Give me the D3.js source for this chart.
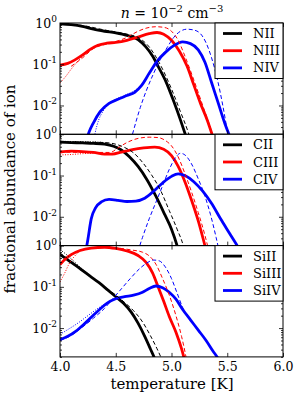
<!DOCTYPE html>
<html lang="en">
<head>
<meta charset="UTF-8">
<title>Ion fractions</title>
<style>
body { margin: 0; background: #fff; }
svg text { font-family: "DejaVu Serif", serif; fill: #000; }
</style>
</head>
<body>
<svg id="chart" width="300" height="420"></svg>
<script src="https://d3js.org/d3.v7.min.js"></script>
<script>
// x = log10 temperature, y = log10 fractional abundance
const xTicks = [4.0, 4.5, 5.0, 5.5, 6.0];
const yLabelExps = [0, -1, -2];

// nitrogen
const NII_solid = [[4.0,-0.02],[4.1,-0.04],[4.2,-0.08],[4.3,-0.15],[4.4,-0.2],[4.5,-0.24],[4.6,-0.3],[4.7,-0.4],[4.77,-0.58],[4.83,-0.8],[4.88,-1.05],[4.95,-1.42],[5.02,-1.9],[5.08,-2.35],[5.13,-2.75],[5.16,-3]];
const NII_dashed = [[4.0,-0.02],[4.2,-0.06],[4.4,-0.17],[4.6,-0.27],[4.7,-0.35],[4.8,-0.58],[4.86,-0.82],[4.92,-1.12],[5.0,-1.6],[5.08,-2.15],[5.15,-2.65],[5.19,-3]];
const NIII_solid = [[4.0,-1.02],[4.07,-0.98],[4.13,-0.9],[4.2,-0.78],[4.27,-0.64],[4.34,-0.54],[4.42,-0.49],[4.5,-0.47],[4.6,-0.42],[4.7,-0.34],[4.8,-0.26],[4.87,-0.23],[4.93,-0.27],[5.0,-0.42],[5.07,-0.68],[5.14,-1.05],[5.2,-1.5],[5.26,-1.95],[5.32,-2.35],[5.37,-2.75],[5.4,-3]];
const NIII_dashed = [[4.1,-1.05],[4.2,-0.85],[4.3,-0.62],[4.4,-0.52],[4.5,-0.45],[4.6,-0.35],[4.7,-0.2],[4.78,-0.12],[4.86,-0.09],[4.94,-0.11],[5.0,-0.2],[5.06,-0.42],[5.12,-0.8],[5.2,-1.38],[5.28,-2.0],[5.35,-2.55],[5.4,-3]];
const NIII_dotted = [[4.0,-1.45],[4.05,-1.3],[4.1,-1.12],[4.17,-0.9],[4.25,-0.7],[4.34,-0.54]];
const NIV_solid = [[4.22,-3],[4.26,-2.65],[4.3,-2.42],[4.36,-2.15],[4.44,-1.95],[4.52,-1.85],[4.6,-1.76],[4.67,-1.68],[4.73,-1.52],[4.8,-1.22],[4.87,-0.93],[4.95,-0.7],[5.02,-0.55],[5.1,-0.46],[5.17,-0.5],[5.24,-0.65],[5.3,-0.95],[5.36,-1.45],[5.42,-1.95],[5.48,-2.45],[5.53,-2.8],[5.56,-3]];
const NIV_dashed = [[4.62,-3],[4.66,-2.6],[4.72,-2.05],[4.78,-1.6],[4.84,-1.22],[4.9,-0.88],[4.96,-0.6],[5.02,-0.35],[5.08,-0.2],[5.14,-0.15],[5.2,-0.17],[5.26,-0.26],[5.31,-0.48],[5.36,-0.85],[5.41,-1.35],[5.46,-2.0],[5.5,-2.6],[5.53,-3]];
const NIV_dotted = [[4.29,-3],[4.33,-2.5],[4.4,-2.08],[4.48,-1.88],[4.56,-1.78],[4.64,-1.68],[4.7,-1.58],[4.75,-1.45]];

// carbon
const CII_solid = [[4.0,-0.19],[4.1,-0.2],[4.2,-0.21],[4.3,-0.22],[4.4,-0.24],[4.48,-0.29],[4.55,-0.38],[4.62,-0.54],[4.7,-0.78],[4.78,-1.1],[4.86,-1.5],[4.94,-1.95],[5.0,-2.3],[5.05,-2.7],[5.08,-3]];
const CII_dashed = [[4.0,-0.19],[4.2,-0.19],[4.4,-0.2],[4.5,-0.24],[4.58,-0.32],[4.66,-0.45],[4.74,-0.68],[4.82,-0.98],[4.9,-1.35],[4.98,-1.85],[5.05,-2.3],[5.11,-2.75],[5.13,-3]];
const CII_dotted = [[4.0,-0.17],[4.2,-0.18],[4.35,-0.19],[4.45,-0.24],[4.52,-0.32]];
const CIII_solid = [[4.0,-0.43],[4.1,-0.41],[4.2,-0.42],[4.3,-0.44],[4.4,-0.48],[4.47,-0.48],[4.55,-0.43],[4.65,-0.37],[4.75,-0.33],[4.85,-0.31],[4.93,-0.36],[5.0,-0.52],[5.06,-0.78],[5.12,-1.15],[5.18,-1.6],[5.24,-2.1],[5.3,-2.7],[5.33,-3]];
const CIII_dashed = [[4.0,-0.43],[4.3,-0.44],[4.45,-0.44],[4.52,-0.33],[4.6,-0.2],[4.7,-0.1],[4.8,-0.07],[4.88,-0.08],[4.95,-0.16],[5.0,-0.28],[5.06,-0.55],[5.12,-0.95],[5.18,-1.4],[5.24,-1.9],[5.3,-2.45],[5.35,-3]];
const CIII_dotted = [[4.0,-0.5],[4.1,-0.49],[4.2,-0.47],[4.3,-0.46],[4.4,-0.48]];
const CIV_solid = [[4.22,-3],[4.25,-2.55],[4.28,-2.05],[4.32,-1.78],[4.37,-1.64],[4.44,-1.58],[4.52,-1.6],[4.6,-1.63],[4.68,-1.62],[4.76,-1.55],[4.84,-1.38],[4.92,-1.18],[5.0,-1.02],[5.06,-0.96],[5.12,-1.0],[5.2,-1.15],[5.28,-1.38],[5.36,-1.68],[5.44,-2.05],[5.52,-2.4],[5.6,-2.75],[5.65,-3]];
const CIV_dashed = [[4.68,-3],[4.74,-2.5],[4.8,-2.05],[4.86,-1.65],[4.92,-1.25],[4.98,-0.85],[5.04,-0.55],[5.08,-0.46],[5.12,-0.5],[5.18,-0.72],[5.24,-1.08],[5.3,-1.5],[5.35,-1.95],[5.4,-2.5],[5.44,-3]];

// silicon
const SiII_solid = [[4.0,-0.22],[4.06,-0.33],[4.13,-0.46],[4.2,-0.6],[4.27,-0.74],[4.35,-0.9],[4.43,-1.08],[4.5,-1.24],[4.57,-1.4],[4.64,-1.62],[4.7,-1.88],[4.76,-2.2],[4.81,-2.5],[4.85,-2.75],[4.88,-3]];
const SiII_dashed = [[4.0,-0.18],[4.1,-0.38],[4.2,-0.58],[4.3,-0.8],[4.4,-1.0],[4.5,-1.2],[4.58,-1.38],[4.66,-1.58],[4.74,-1.85],[4.81,-2.18],[4.87,-2.5],[4.92,-2.8],[4.95,-3]];
const SiII_dotted = [[4.0,-0.1],[4.05,-0.2],[4.1,-0.32],[4.18,-0.52],[4.25,-0.68]];
const SiIII_solid = [[4.0,-0.46],[4.05,-0.32],[4.1,-0.22],[4.18,-0.12],[4.28,-0.06],[4.4,-0.04],[4.5,-0.07],[4.6,-0.13],[4.7,-0.24],[4.77,-0.4],[4.83,-0.66],[4.88,-1.0],[4.93,-1.35],[4.98,-1.72],[5.04,-2.1],[5.09,-2.5],[5.12,-2.8],[5.14,-3]];
const SiIII_dashed = [[4.0,-0.46],[4.2,-0.1],[4.4,-0.04],[4.55,-0.07],[4.65,-0.11],[4.74,-0.16],[4.8,-0.25],[4.86,-0.45],[4.92,-0.8],[4.98,-1.2],[5.04,-1.7],[5.09,-2.2],[5.13,-2.7],[5.15,-3]];
const SiIII_dotted = [[4.0,-0.88],[4.04,-0.68],[4.08,-0.45],[4.13,-0.26],[4.18,-0.13]];
const SiIV_solid = [[4.0,-2.28],[4.07,-2.2],[4.14,-2.08],[4.21,-1.92],[4.28,-1.74],[4.35,-1.56],[4.42,-1.4],[4.5,-1.29],[4.58,-1.24],[4.66,-1.2],[4.74,-1.13],[4.8,-1.04],[4.86,-0.98],[4.92,-1.02],[4.98,-1.13],[5.04,-1.3],[5.1,-1.55],[5.17,-1.8],[5.24,-2.05],[5.31,-2.3],[5.37,-2.55],[5.42,-2.75],[5.46,-3]];
const SiIV_dashed = [[4.0,-2.3],[4.1,-2.18],[4.2,-1.98],[4.3,-1.76],[4.4,-1.52],[4.47,-1.3],[4.55,-1.05],[4.63,-0.8],[4.71,-0.57],[4.78,-0.42],[4.84,-0.35],[4.89,-0.37],[4.94,-0.5],[5.0,-0.8],[5.05,-1.15],[5.1,-1.5],[5.17,-1.8]];
const SiIV_dotted = [[4.0,-2.15],[4.08,-2.02],[4.16,-1.88],[4.24,-1.72],[4.32,-1.56],[4.4,-1.42],[4.47,-1.32]];

const colors = ["#000000", "#ff0000", "#0000ff"];

const panels = [
    { names: ["NII", "NIII", "NIV"],
      solid: [NII_solid, NIII_solid, NIV_solid],
      dashed: [NII_dashed, NIII_dashed, NIV_dashed],
      dotted: [[], NIII_dotted, NIV_dotted] },
    { names: ["CII", "CIII", "CIV"],
      solid: [CII_solid, CIII_solid, CIV_solid],
      dashed: [CII_dashed, CIII_dashed, CIV_dashed],
      dotted: [CII_dotted, CIII_dotted, []] },
    { names: ["SiII", "SiIII", "SiIV"],
      solid: [SiII_solid, SiIII_solid, SiIV_solid],
      dashed: [SiII_dashed, SiIII_dashed, SiIV_dashed],
      dotted: [SiII_dotted, SiIII_dotted, SiIV_dotted] }
];

const svg = d3.select("#chart");
const left = 60, right = 283, top0 = 23, ph = 111.3;

const x = d3.scaleLinear().domain([4.0, 6.0]).range([left, right]);

// log minor ticks inside the y domain
const yMin = 2e-3;
const minor = [];
[1e-3, 1e-2, 1e-1].forEach(d => {
    for (let k = 2; k <= 9; k++) if (d * k >= yMin) minor.push(d * k);
});

panels.forEach((p, i) => {
    const top = top0 + i * ph, bottom = top + ph;
    const y = d3.scaleLog().domain([yMin, 1]).range([bottom, top]);
    const g = svg.append("g");

    g.append("clipPath").attr("id", "clip" + i)
        .append("rect").attr("x", left).attr("y", top)
        .attr("width", right - left).attr("height", ph);

    const line = d3.line()
        .x(d => x(d[0]))
        .y(d => y(Math.pow(10, d[1])))
        .curve(d3.curveMonotoneX);

    const plot = g.append("g").attr("clip-path", `url(#clip${i})`);

    p.solid.forEach((s, j) => {
        plot.append("path").attr("d", line(s)).attr("fill", "none")
            .attr("stroke", colors[j]).attr("stroke-width", 2.8)
            .attr("stroke-linejoin", "round");
    });
    p.dashed.forEach((s, j) => {
        plot.append("path").attr("d", line(s)).attr("fill", "none")
            .attr("stroke", colors[j]).attr("stroke-width", 1)
            .attr("stroke-dasharray", "4,2.5");
    });
    p.dotted.forEach((s, j) => {
        if (!s.length) return;
        plot.append("path").attr("d", line(s)).attr("fill", "none")
            .attr("stroke", colors[j]).attr("stroke-width", 1)
            .attr("stroke-dasharray", "1,1.5");
    });

    // ticks, all pointing inwards
    const axes = g.append("g");
    axes.append("g").attr("transform", `translate(0,${bottom})`)
        .call(d3.axisBottom(x).tickValues(xTicks).tickSize(-4).tickFormat(i === 2 ? d3.format(".1f") : ""));
    axes.append("g").attr("transform", `translate(0,${top})`)
        .call(d3.axisTop(x).tickValues(xTicks).tickSize(-4).tickFormat(""));
    axes.append("g").attr("transform", `translate(${left},0)`)
        .call(d3.axisLeft(y).tickValues([1, 0.1, 0.01]).tickSize(-4).tickFormat(""));
    axes.append("g").attr("transform", `translate(${left},0)`)
        .call(d3.axisLeft(y).tickValues(minor).tickSize(-2).tickFormat(""));
    axes.append("g").attr("transform", `translate(${right},0)`)
        .call(d3.axisRight(y).tickValues([1, 0.1, 0.01]).tickSize(-4).tickFormat(""));
    axes.append("g").attr("transform", `translate(${right},0)`)
        .call(d3.axisRight(y).tickValues(minor).tickSize(-2).tickFormat(""));
    axes.selectAll(".domain").remove();
    axes.selectAll(".tick line").attr("stroke", "#000").attr("stroke-width", 0.8);
    axes.selectAll(".tick text").attr("font-family", "DejaVu Serif").attr("font-size", 12.5)
        .attr("fill", "#000").attr("y", 0).attr("dy", 14);

    yLabelExps.forEach(e => {
        const t = g.append("text").attr("x", 57).attr("y", y(Math.pow(10, e)) + 4.5)
            .attr("text-anchor", "end").attr("font-size", 12.5);
        t.append("tspan").text("10");
        t.append("tspan").attr("dy", -5.5).attr("font-size", 9).text(e === 0 ? "0" : "-" + (-e));
    });

    g.append("rect").attr("x", left).attr("y", top).attr("width", right - left).attr("height", ph)
        .attr("fill", "none").attr("stroke", "#000").attr("stroke-width", 1);

    // legend
    const lx = 215, lw = right - lx;
    const leg = g.append("g");
    leg.append("rect").attr("x", lx).attr("y", top).attr("width", lw).attr("height", 55.5)
        .attr("fill", "#fff").attr("stroke", "#000").attr("stroke-width", 1);
    p.names.forEach((n, j) => {
        const ly = top + 10.5 + j * 17.2;
        leg.append("line").attr("x1", lx + 8).attr("x2", lx + 27).attr("y1", ly).attr("y2", ly)
            .attr("stroke", colors[j]).attr("stroke-width", 2.8);
        leg.append("text").attr("x", lx + 38).attr("y", ly + 4.5).attr("font-size", 13).text(n);
    });
});

// title
const title = svg.append("text").attr("x", 172).attr("y", 18).attr("text-anchor", "middle").attr("font-size", 14);
title.append("tspan").attr("font-style", "italic").text("n");
title.append("tspan").text(" = 10");
title.append("tspan").attr("dy", -6).attr("font-size", 10).text("−2");
title.append("tspan").attr("dy", 6).text(" cm");
title.append("tspan").attr("dy", -6).attr("font-size", 10).text("−3");

svg.append("text").attr("x", 172).attr("y", 389).attr("text-anchor", "middle")
    .attr("font-size", 15).text("temperature [K]");

svg.append("text").attr("transform", "translate(15,189) rotate(-90)")
    .attr("text-anchor", "middle").attr("font-size", 15).text("fractional abundance of ion");
</script>
</body>
</html>
